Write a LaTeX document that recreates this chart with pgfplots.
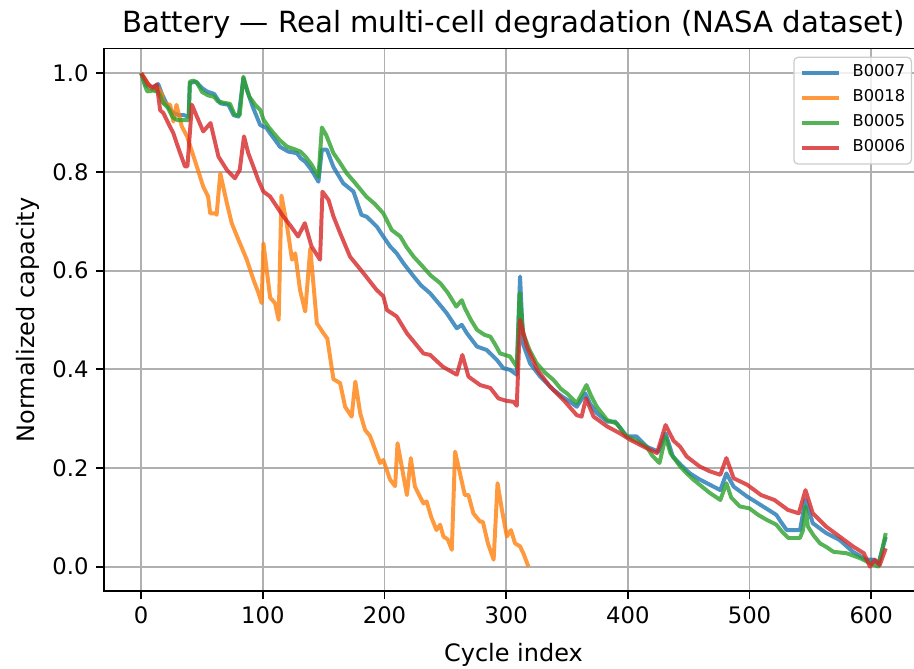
\documentclass[border=0pt]{standalone}
\usepackage{pgfplots}
\pgfplotsset{compat=1.18}
\usepackage{fontspec}
\setmainfont{DejaVu Sans}
\definecolor{cB}{HTML}{1F77B4}
\definecolor{cO}{HTML}{FF7F0E}
\definecolor{cG}{HTML}{2CA02C}
\definecolor{cR}{HTML}{D62728}
\begin{document}
\begin{tikzpicture}
\begin{axis}[
  at={(0pt,0pt)}, anchor=south west,
  scale only axis, width=393.12pt, height=260.5pt,
  xmin=-30.6, xmax=642.6, ymin=-0.05, ymax=1.05,
  xtick={0,100,200,300,400,500,600},
  ytick={0,0.2,0.4,0.6,0.8,1.0},
  scaled y ticks=false,
  yticklabel style={/pgf/number format/.cd, fixed, fixed zerofill, precision=1},
  /pgf/number format/assume math mode=true,
  tick label style={font=\fontsize{10.9}{13}\selectfont},
  label style={font=\fontsize{11.5}{14}\selectfont},
  xlabel={Cycle index},
  ylabel={Normalized capacity},
  xlabel style={at={(axis description cs:0.5,-0.118)}, anchor=center},
  ylabel style={at={(axis description cs:-0.0929,0.5)}, anchor=center},
  title={Battery — Real multi-cell degradation (NASA dataset)},
  every axis title shift=0pt,
  title style={font=\fontsize{14}{17}\selectfont, at={(axis description cs:0.5,1.0435)}, anchor=center, yshift=0pt},
  grid=major,
  major grid style={color=black!31, line width=0.9pt},
  axis line style={line width=0.9pt},
  tick style={black, line width=0.9pt},
  tick align=outside, major tick length=3.85pt,
  tick pos=left,
  legend cell align=left,
  legend image code/.code={\draw[#1] (0pt,0pt) -- (17.8pt,0pt);},
  legend style={at={(rel axis cs:0.9866,0.985)}, anchor=north east,
    draw=black!20, line width=0.6pt, fill=white, fill opacity=0.8, text opacity=1, draw opacity=1,
    rounded corners=2pt,
    font=\fontsize{7.8}{9}\selectfont,
    inner xsep=3pt, inner ysep=3.5pt,
    nodes={inner sep=0pt, text height=5.7pt, text depth=2.5pt},
    row sep=3.8pt, column sep=5.5pt},
  every axis plot/.append style={line width=1.9pt, opacity=0.8, line join=round},
]
\addplot[cB] coordinates {
(0,1.0) (4,0.975) (8,0.97) (12,0.975) (14,0.978) (17,0.958) (22,0.932) (26,0.92) (31,0.915) (35,0.915) (39,0.912) (40,0.98) (45,0.983) (50,0.97) (54,0.963) (60,0.958) (65,0.939) (71.7,0.936) (76,0.915) (80,0.912) (84,0.99) (87,0.965) (92,0.93) (97.8,0.895) (103,0.889) (106,0.878) (110,0.865) (114,0.851) (121,0.841) (128,0.838) (131,0.828) (135,0.82) (140,0.804) (145.7,0.78) (148.5,0.845) (152.6,0.845) (158,0.81) (166,0.777) (174.5,0.76) (181,0.713) (185.4,0.709) (193.7,0.689) (199,0.669) (204.6,0.649) (210,0.635) (215.5,0.615) (224,0.588) (230,0.57) (237.5,0.554) (244,0.535) (251,0.514) (259.4,0.483) (263.5,0.49) (267.7,0.473) (276,0.446) (284,0.439) (292.3,0.419) (297.7,0.402) (303,0.399) (308.7,0.389) (311.4,0.588) (314,0.45) (319.6,0.412) (328,0.385) (339,0.358) (345.7,0.345) (352,0.335) (358,0.324) (365,0.351) (369,0.33) (374.5,0.311) (383,0.294) (389.5,0.294) (399,0.264) (407,0.264) (415.5,0.243) (425,0.233) (431,0.27) (437,0.223) (444,0.205) (451,0.189) (458,0.178) (465,0.169) (476,0.155) (481,0.189) (487,0.162) (498,0.142) (504,0.133) (511,0.122) (522,0.105) (526,0.09) (530.6,0.074) (541.5,0.074) (546,0.135) (552,0.088) (563,0.068) (574,0.054) (585,0.03) (596,0.014) (601.7,0.014) (606,0.007) (612,0.06)
};
\addlegendentry{B0007}
\addplot[cO] coordinates {
(0,1.0) (6,0.977) (10,0.965) (14,0.97) (17,0.958) (18.3,0.939) (23.8,0.936) (26.5,0.902) (29,0.936) (33.4,0.892) (37.7,0.872) (45.7,0.811) (51,0.77) (55,0.75) (56.7,0.716) (60.8,0.716) (62,0.713) (65,0.797) (70.4,0.737) (74.4,0.696) (80,0.662) (86.8,0.622) (92.3,0.581) (96.5,0.554) (99,0.534) (100.5,0.655) (106,0.545) (110,0.534) (113,0.5) (115.3,0.752) (119.5,0.696) (124,0.622) (126.6,0.635) (130.6,0.56) (134.8,0.517) (139,0.645) (144.4,0.493) (149.8,0.473) (153,0.462) (158,0.38) (163.5,0.372) (167.6,0.324) (173,0.304) (176,0.375) (180,0.311) (184,0.277) (188,0.265) (196.4,0.21) (199,0.216) (204.6,0.176) (208.7,0.163) (210.7,0.25) (218.4,0.145) (221.6,0.22) (225,0.162) (232,0.128) (234.6,0.132) (238.3,0.101) (242.7,0.074) (245.7,0.085) (248.4,0.061) (252,0.055) (255.3,0.034) (258,0.233) (262,0.189) (266,0.145) (269,0.145) (273,0.108) (278.6,0.091) (280.8,0.091) (285,0.047) (289.7,0.014) (292.9,0.169) (296.5,0.115) (300.6,0.061) (303.9,0.074) (307.3,0.047) (311.4,0.041) (314.1,0.027) (318.3,0.0)
};
\addlegendentry{B0018}
\addplot[cG] coordinates {
(0,1.0) (3,0.975) (5,0.963) (10,0.965) (14,0.962) (18,0.94) (22,0.93) (26,0.91) (30,0.905) (35,0.905) (39,0.905) (40,0.983) (43,0.985) (46,0.98) (50,0.962) (55,0.955) (60,0.952) (63,0.943) (68,0.94) (73,0.938) (77,0.915) (81,0.915) (84,0.993) (86,0.975) (89,0.952) (94,0.935) (98,0.925) (100.5,0.906) (105,0.89) (109,0.878) (114,0.864) (120,0.851) (126,0.846) (131,0.841) (135,0.831) (140,0.815) (145.7,0.79) (148.5,0.89) (152,0.875) (158,0.838) (163,0.82) (169,0.797) (175,0.78) (180,0.765) (185,0.75) (192,0.735) (199,0.716) (206,0.682) (213,0.669) (218,0.648) (224,0.628) (230,0.612) (238,0.59) (246,0.574) (252,0.555) (259,0.527) (263.5,0.54) (266,0.524) (271,0.5) (276,0.48) (282,0.47) (287,0.466) (291,0.45) (295,0.432) (303,0.426) (308.7,0.405) (311,0.555) (314,0.473) (319,0.44) (325,0.412) (332,0.393) (339,0.378) (345,0.36) (350,0.351) (358,0.331) (366,0.368) (370,0.345) (374.5,0.324) (383,0.297) (391,0.29) (399,0.264) (407,0.255) (415.5,0.243) (420,0.225) (426,0.21) (431,0.263) (435,0.23) (443,0.203) (448,0.19) (454,0.176) (461,0.162) (467.5,0.149) (476,0.135) (481,0.169) (485,0.14) (492,0.122) (500,0.118) (507,0.105) (514,0.095) (522,0.085) (527,0.07) (532,0.058) (541.5,0.058) (544,0.074) (546,0.122) (548,0.081) (553,0.062) (558,0.047) (563,0.04) (569,0.03) (580,0.027) (591,0.017) (599,0.007) (606,0.0) (612,0.068)
};
\addlegendentry{B0005}
\addplot[cR] coordinates {
(0,1.0) (6,0.977) (10,0.97) (12.8,0.977) (15.6,0.925) (18.3,0.919) (22,0.9) (26.5,0.878) (31,0.845) (36,0.811) (38,0.811) (41.7,0.936) (47,0.905) (51,0.882) (57,0.899) (63.5,0.831) (70.4,0.804) (77,0.787) (81,0.804) (84.5,0.872) (88,0.838) (92.3,0.81) (96,0.785) (100.5,0.76) (106,0.75) (110,0.735) (117,0.709) (123,0.69) (129,0.669) (134.5,0.696) (140,0.649) (147,0.622) (149,0.76) (154,0.743) (158,0.71) (163.5,0.676) (171.7,0.628) (177,0.612) (182.6,0.595) (193.4,0.561) (199,0.548) (202,0.52) (210,0.507) (218.4,0.473) (226,0.45) (232,0.432) (237.5,0.429) (248,0.405) (259.4,0.389) (264,0.429) (269,0.385) (278.6,0.368) (287,0.362) (293.6,0.341) (300,0.336) (306,0.334) (308.7,0.326) (311.4,0.5) (317,0.446) (325.5,0.399) (336,0.365) (347,0.338) (358,0.307) (362,0.304) (365.6,0.341) (371.8,0.304) (383,0.284) (393.6,0.27) (402,0.257) (413,0.243) (424,0.23) (431,0.287) (437.6,0.255) (443,0.243) (448.4,0.223) (459,0.203) (467.5,0.193) (476,0.186) (481,0.22) (487,0.179) (498,0.166) (509.5,0.145) (520.5,0.135) (531.5,0.115) (540.5,0.108) (546,0.155) (552,0.108) (563,0.081) (574,0.061) (585,0.041) (594,0.027) (599,0.0) (603,0.014) (607,0.003) (612,0.037)
};
\addlegendentry{B0006}
\end{axis}
\pgfresetboundingbox
\useasboundingbox (-49.9pt,-37.2pt) rectangle (388.8pt,283.8pt);
\end{tikzpicture}
\end{document}
